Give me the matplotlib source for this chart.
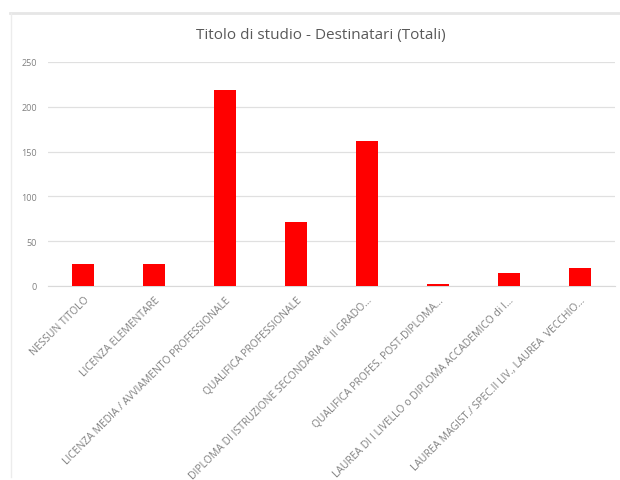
import matplotlib
matplotlib.use("Agg")
import matplotlib.pyplot as plt
from matplotlib.lines import Line2D

categories = [
    "NESSUN TITOLO",
    "LICENZA ELEMENTARE",
    "LICENZA MEDIA / AVVIAMENTO PROFESSIONALE",
    "QUALIFICA PROFESSIONALE",
    "DIPLOMA DI ISTRUZIONE SECONDARIA di II GRADO\u2026",
    "QUALIFICA PROFES. POST-DIPLOMA\u2026",
    "LAUREA DI I LIVELLO o DIPLOMA ACCADEMICO di I\u2026",
    "LAUREA MAGIST./ SPEC.II LIV., LAUREA  VECCHIO\u2026",
]
values = [25, 25, 219, 71, 162, 2, 15, 20]
yticks = [0, 50, 100, 150, 200, 250]
title = "Titolo di studio - Destinatari (Totali)"

plt.rcParams['font.family'] = ['Open Sans', 'DejaVu Sans']

W, H = 620, 481
fig = plt.figure(figsize=(W / 100, H / 100), dpi=100)
ax = fig.add_axes([48 / W, 1 - 287 / H, (615 - 48) / W, (287 - 63) / H])

x = list(range(len(categories)))
ax.bar(x, values, width=0.31, color="#ff0000", zorder=3)
ax.set_xlim(-0.5, len(categories) - 0.5)
ax.set_ylim(0, 250)
ax.set_yticks(yticks)
ax.set_yticklabels([str(v) for v in yticks], fontsize=6.5, color="#808080")
ax.set_xticks(x)
ax.set_xticklabels(categories, rotation=45, ha="right", va="top",
                   rotation_mode="anchor", fontsize=7.5, color="#808080")
ax.tick_params(axis="y", length=0, pad=8)
ax.tick_params(axis="x", length=0, pad=6)
ax.grid(axis="y", color="#e0e0e0", linewidth=0.9, zorder=0)
for s in ["top", "right", "left"]:
    ax.spines[s].set_visible(False)
ax.spines["bottom"].set_color("#d9d9d9")

fig.text(321 / W, 1 - 36 / H, title, ha="center", va="center",
         fontsize=11, color="#595959")

# screenshot frame lines
fig.add_artist(Line2D([10 / W, 1], [1 - 14 / H, 1 - 14 / H],
                      color="#e6e6e6", linewidth=2))
fig.add_artist(Line2D([11 / W, 11 / W], [1 - 14 / H, 1 - 478 / H],
                      color="#ececec", linewidth=1))

fig.savefig("out.png", dpi=100)
